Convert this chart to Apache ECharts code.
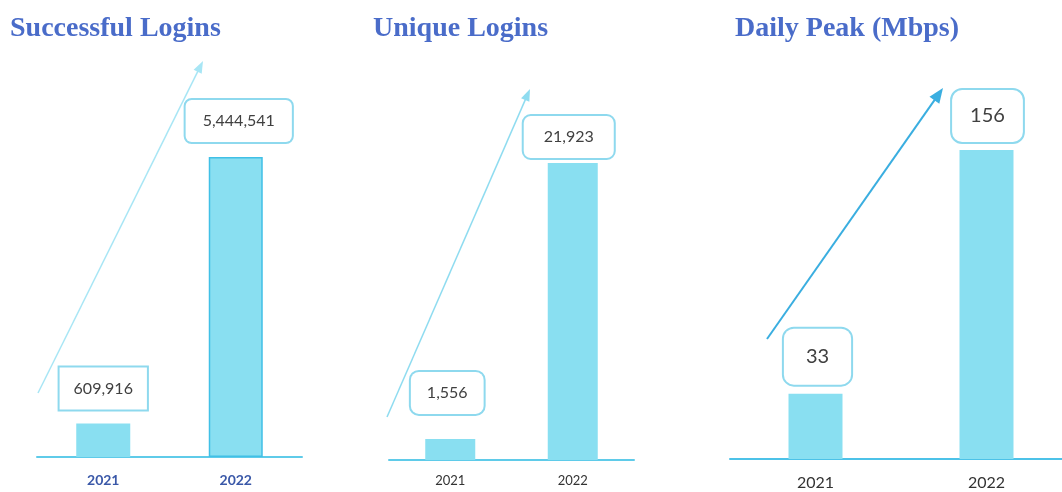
<!DOCTYPE html>
<html><head><meta charset="utf-8">
<script src="https://cdn.jsdelivr.net/npm/echarts@6/dist/echarts.min.js"></script>
<style>html,body{margin:0;padding:0;background:#fff;overflow:hidden}#c{width:1074px;height:492px}</style>
</head><body><div id="c"></div>
<script>
const years = ['2021', '2022'];
const successfulLogins = [609916, 5444541];
const uniqueLogins = [1556, 21923];
const dailyPeakMbps = [33, 156];
const panelTitles = ['Successful Logins', 'Unique Logins', 'Daily Peak (Mbps)'];

const chart = echarts.init(document.getElementById('c'), null, {renderer: 'canvas'});
const BAR = '#89dff1';
const BOX = '#8ed9ee';
const FONT = 'Lato, "Open Sans", sans-serif';

const panels = [
  {values: successfulLogins, grid: {left: 37, width: 265, top: 157, height: 300}, barWidth: 54,
   axisColor: '#5fcbe9', year: {color: '#3a58a8', fontWeight: 'bold', fontSize: 14, margin: 16},
   font: 16, labels: [
     {dist: 14, pad: [13, 14], r: 0, off: [0, 0]},
     {dist: 15, pad: [13, 17], r: 6, off: [3, 0]}],
   barBorder: [null, '#40c0e6'], titleLeft: 5},
  {values: uniqueLogins, grid: {left: 389, width: 245, top: 163, height: 297}, barWidth: 50,
   axisColor: '#5fcbe9', year: {color: '#333', fontWeight: 'normal', fontSize: 13, margin: 14},
   font: 16, labels: [
     {dist: 25, pad: [13, 16], r: 8, off: [-3, 0]},
     {dist: 5, pad: [13, 20], r: 7, off: [-4, 0]}],
   barBorder: [null, null], titleLeft: 368},
  {values: dailyPeakMbps, grid: {left: 730, width: 342, top: 150, height: 309}, barWidth: 54,
   axisColor: '#4cc2e8', year: {color: '#333', fontWeight: 'normal', fontSize: 16, margin: 16},
   font: 20, labels: [
     {dist: 9, pad: [18, 22], r: 10, off: [2, 0]},
     {dist: 8, pad: [16, 18], r: 10, off: [1, 0]}],
   barBorder: [null, null], titleLeft: 730}
];

function arrow(x1, y1, x2, y2, color, lw, hl, hw) {
  const dx = x2 - x1, dy = y2 - y1, L = Math.hypot(dx, dy);
  const ux = dx / L, uy = dy / L, px = -uy, py = ux;
  const bx = x2 - ux * hl, by = y2 - uy * hl;
  return [
    {type: 'line', shape: {x1: x1, y1: y1, x2: bx + ux * 2, y2: by + uy * 2}, style: {stroke: color, lineWidth: lw}, silent: true},
    {type: 'polygon', shape: {points: [[x2, y2], [bx + px * hw / 2, by + py * hw / 2], [bx - px * hw / 2, by - py * hw / 2]]}, style: {fill: color}, silent: true}
  ];
}

const option = {
  animation: false,
  backgroundColor: '#ffffff',
  title: panels.map((p, i) => ({
    text: panelTitles[i], left: p.titleLeft, top: 10,
    textStyle: {fontFamily: '"Liberation Serif", serif', fontWeight: 'bold', fontSize: 28, color: '#4a6cc9'}
  })),
  grid: panels.map(p => Object.assign({containLabel: false}, p.grid)),
  xAxis: panels.map((p, i) => ({
    type: 'category', gridIndex: i, data: years, boundaryGap: true,
    axisLine: {show: true, lineStyle: {color: p.axisColor, width: 2}},
    axisTick: {show: false},
    axisLabel: Object.assign({fontFamily: FONT}, p.year)
  })),
  yAxis: panels.map((p, i) => ({type: 'value', gridIndex: i, min: 0, max: 'dataMax', show: false, splitLine: {show: false}})),
  series: panels.map((p, i) => ({
    type: 'bar', xAxisIndex: i, yAxisIndex: i, barWidth: p.barWidth,
    data: p.values.map((v, j) => ({
      value: v,
      itemStyle: p.barBorder[j] ? {color: BAR, borderColor: p.barBorder[j], borderWidth: 1.5} : {color: BAR},
      label: {
        show: true, position: 'top', distance: p.labels[j].dist, offset: p.labels[j].off,
        formatter: (d) => Number(d.value).toLocaleString('en-US'),
        fontFamily: FONT, fontSize: p.font, color: '#404040', lineHeight: p.font,
        backgroundColor: '#fff', borderColor: BOX, borderWidth: 2,
        borderRadius: p.labels[j].r, padding: p.labels[j].pad
      }
    }))
  })),
  graphic: [].concat(
    arrow(38, 393, 203, 61, '#a8e6f5', 1.5, 12, 9),
    arrow(387, 417, 530, 89, '#8fdcf0', 1.5, 12, 9),
    arrow(767, 339, 943, 88, '#3aaee0', 2, 15, 12)
  )
};
chart.setOption(option);
</script></body></html>
